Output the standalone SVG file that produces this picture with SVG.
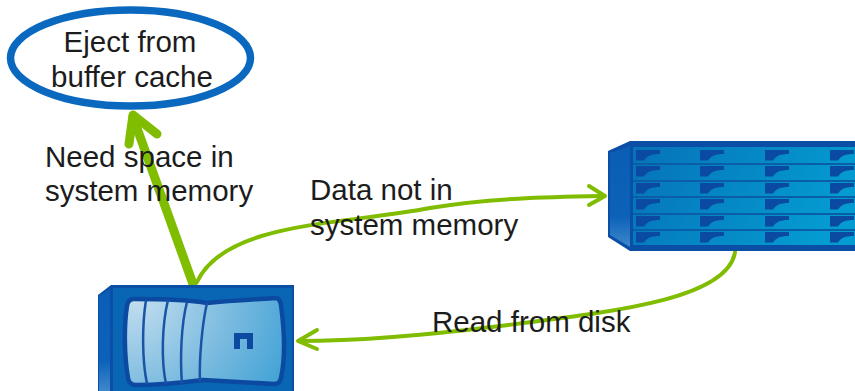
<svg xmlns="http://www.w3.org/2000/svg" width="855" height="391" viewBox="0 0 855 391">
<style>
text{font-family:"Liberation Sans",Arial,sans-serif;font-size:29.500px;fill:#1c1c1c}
.thin{fill:none;stroke:#80bc00;stroke-width:4;stroke-linecap:round;stroke-linejoin:round}
.thick{fill:none;stroke:#80bc00;stroke-width:9;stroke-linecap:round;stroke-linejoin:round}
.sep{stroke:#0a5ea8;stroke-width:2}
.rib{fill:none;stroke:#1a55a5;stroke-width:2.5}
</style>
<defs>
<linearGradient id="shelf" x1="0" y1="0" x2="1" y2="0.25"><stop offset="0" stop-color="#0672b8"/><stop offset="1" stop-color="#049bd0"/></linearGradient>
<linearGradient id="side" x1="0" y1="0" x2="0" y2="1"><stop offset="0" stop-color="#0b5db5"/><stop offset="0.7" stop-color="#0b62b8"/><stop offset="1" stop-color="#3f88cc"/></linearGradient>
<radialGradient id="face" gradientUnits="userSpaceOnUse" cx="135" cy="295" r="170"><stop offset="0" stop-color="#c5dff0"/><stop offset="0.55" stop-color="#7dbce0"/><stop offset="1" stop-color="#41a2d5"/></radialGradient>
<path id="slot" d="M0 0H24V4C15 4 11 6 8 10.500H0Z" fill="#0b4aa2"/>
</defs>
<g id="connectors">
<path class="thick" d="M193 284L133 117"/>
<path class="thick" d="M129 144L133 115L157 134"/>
<path class="thin" d="M197 282C225 222 340 225 430 208C490 198 550 197 604 196"/>
<path class="thin" d="M589 186L605 196L589 205"/>
<path class="thin" d="M735 252C728 300 610 312 500 326C420 336 350 341 299 341"/>
<path class="thin" d="M317 330L298 341L317 349"/>
</g>
<g id="eject-node">
<ellipse cx="130.500" cy="58" rx="120" ry="48" fill="#fff" stroke="#0a68bf" stroke-width="7.500"/>
<text x="130" y="52" text-anchor="middle">Eject from</text>
<text x="132" y="87" text-anchor="middle">buffer cache</text>
</g>
<g id="disk-shelf">
<path d="M608 151L630 141H855V251H630L608 237Z" fill="#0a4ea6"/>
<path d="M610 153L630 146V247L610 235Z" fill="url(#side)"/>
<rect x="633" y="147" width="222" height="98" fill="url(#shelf)"/>
<path class="sep" d="M633 164H855M633 181H855M633 197H855M633 214H855M633 230H855"/>
<g id="slots">
<use href="#slot" x="636" y="150"/><use href="#slot" x="700" y="150"/><use href="#slot" x="765" y="150"/><use href="#slot" x="830" y="150"/>
<use href="#slot" x="636" y="166"/><use href="#slot" x="700" y="166"/><use href="#slot" x="765" y="166"/><use href="#slot" x="830" y="166"/>
<use href="#slot" x="636" y="183"/><use href="#slot" x="700" y="183"/><use href="#slot" x="765" y="183"/><use href="#slot" x="830" y="183"/>
<use href="#slot" x="636" y="199"/><use href="#slot" x="700" y="199"/><use href="#slot" x="765" y="199"/><use href="#slot" x="830" y="199"/>
<use href="#slot" x="636" y="216"/><use href="#slot" x="700" y="216"/><use href="#slot" x="765" y="216"/><use href="#slot" x="830" y="216"/>
<use href="#slot" x="636" y="232"/><use href="#slot" x="700" y="232"/><use href="#slot" x="765" y="232"/><use href="#slot" x="830" y="232"/>
</g>
</g>
<g id="controller">
<path d="M98 295L111 285H294V391H98Z" fill="#0b4ea6"/>
<path d="M99 296L110 289V391H99Z" fill="url(#side)"/>
<rect x="113" y="288" width="179" height="103" fill="#0866b5"/>
<path d="M127 306Q128 299 134 299C165 299 190 300 207 303C235 300 262 299 275 298Q280 298 281 305C285 335 285 360 281 378Q280 384 274 384L203 380C180 383 150 385 136 385Q129 385 128 378C124 355 124 325 127 306Z" fill="url(#face)" stroke="#0b4aa0" stroke-width="4.500"/>
<path class="rib" d="M146 300C142 325 142 360 147 384M168 300C162 325 161 360 166 384M187 302C181 325 180 360 182 383M207 303C202 325 199 360 200 381"/>
<path d="M234 333H253V349H247V339H240V349H234Z" fill="#0b4aa0"/>
</g>
<g id="labels">
<text x="45" y="167">Need space in</text>
<text x="45" y="201">system memory</text>
<text x="310" y="200">Data not in</text>
<text x="310" y="235">system memory</text>
<text x="432" y="332">Read from disk</text>
</g>
</svg>
